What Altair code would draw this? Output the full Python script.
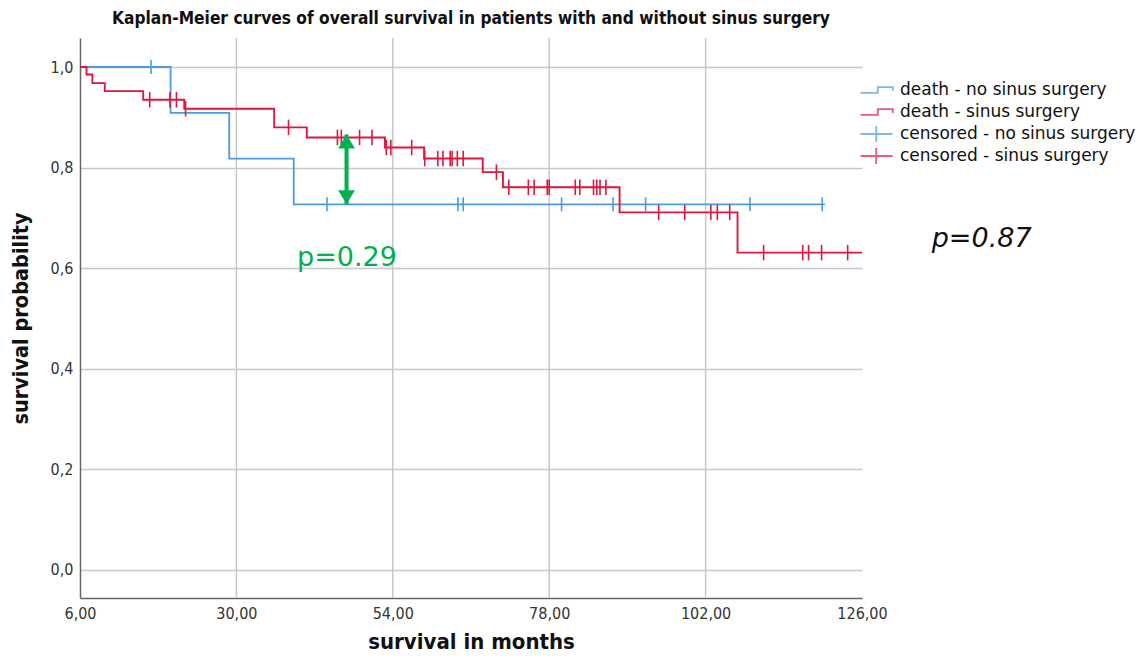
import altair as alt
import pandas as pd

BLUE = "#4a9ae6"
RED = "#e0163f"
GREEN = "#00b050"

# ---- data ----
# no sinus surgery: step points (time, survival)
no_t = [6.0, 19.9, 28.9, 38.8, 120.3]
no_s = [1.0, 0.909, 0.818, 0.727, 0.727]
no_cens_t = [16.9, 43.9, 64.0, 64.8, 79.9, 87.8, 92.8, 108.8, 119.9]

# sinus surgery
si_t = [6.0, 7.0, 7.9, 9.8, 15.7, 22.0, 35.8, 40.8, 52.8, 58.8, 67.8, 70.9, 88.8, 106.9, 126.0]
si_s = [1.0, 0.985, 0.968, 0.952, 0.935, 0.917, 0.880, 0.860, 0.840, 0.818, 0.791, 0.761, 0.711, 0.631, 0.631]
si_cens_t = [16.7, 19.8, 20.8, 22.2, 38.0, 45.5, 46.1, 48.9, 50.8, 53.0, 53.7, 56.9,
             58.9, 60.9, 61.7, 62.8, 63.1, 63.9, 64.8, 69.9,
             71.8, 74.8, 75.7, 77.7, 78.0, 82.0, 82.7, 84.8, 85.3, 85.8, 86.7,
             94.8, 98.8, 102.8, 103.8, 105.7,
             110.9, 116.9, 117.8, 119.8, 123.8]

x_ticks = [6, 30, 54, 78, 102, 126]
x_grid = [30, 54, 78, 102]
y_ticks = [0.0, 0.2, 0.4, 0.6, 0.8, 1.0]

legend_labels = ["death - no sinus surgery", "death - sinus surgery",
                 "censored - no sinus surgery", "censored - sinus surgery"]

arrow_t = [46.9]
arrow_top = [0.866]
arrow_bottom = [0.727]

ann_text = ["p=0.29", "p=0.87"]
ann_t = [39.3, 136.7]
ann_s = [0.604, 0.643]


def km_at(ts, ss, t):
    v = ss[0]
    for ti, si in zip(ts, ss):
        if ti <= t:
            v = si
    return v


curves = pd.DataFrame(
    [{"t": t, "s": s, "g": "no"} for t, s in zip(no_t, no_s)]
    + [{"t": t, "s": s, "g": "si"} for t, s in zip(si_t, si_s)]
)
cens = pd.DataFrame(
    [{"t": t, "s": km_at(no_t, no_s, t), "g": "no"} for t in no_cens_t]
    + [{"t": t, "s": km_at(si_t, si_s, t), "g": "si"} for t in si_cens_t]
)
grid_df = pd.DataFrame({"t": x_grid})
arrow_df = pd.DataFrame({"t": arrow_t, "top": arrow_top, "bottom": arrow_bottom})
ann_df = pd.DataFrame({"t": ann_t, "s": ann_s, "label": ann_text})
leg_df = pd.DataFrame({"label": legend_labels})

FONT = "DejaVu Sans Condensed, DejaVu Sans"
W, H = 782, 560

xscale = alt.Scale(domain=[6, 126], nice=False, zero=False)
yscale = alt.Scale(domain=[-0.0557, 1.0577], nice=False, zero=False)

xaxis = alt.Axis(values=x_ticks, labelExpr="replace(format(datum.value, '.2f'), '.', ',')",
                 title="survival in months", grid=False, ticks=False, labelPadding=7,
                 labelFontSize=16, labelFont=FONT, labelColor="#333",
                 titleFontSize=22, titleFont=FONT, titleFontWeight="bold", titleColor="#111",
                 titleBaseline="alphabetic", titleY=50,
                 domainColor="#666", domainWidth=1.5, labelFlush=False)
yaxis = alt.Axis(values=y_ticks, labelExpr="replace(format(datum.value, '.1f'), '.', ',')",
                 title="survival probability", grid=True, gridColor="#c8c8c8", gridWidth=1.5,
                 ticks=False, labelPadding=7,
                 labelFontSize=16, labelFont=FONT, labelColor="#333",
                 titleFontSize=21.5, titleFont=FONT, titleFontWeight="bold", titleColor="#111",
                 titlePadding=18, domainColor="#666", domainWidth=1.5)


def X(f):
    return alt.X(f"{f}:Q", scale=xscale, axis=xaxis)


def Y(f):
    return alt.Y(f"{f}:Q", scale=yscale, axis=yaxis)


grid = alt.Chart(grid_df).mark_rule(color="#c8c8c8", strokeWidth=1.5).encode(x=X("t"))

line_no = alt.Chart(curves).transform_filter("datum.g == 'no'").mark_line(
    interpolate="step-after", color=BLUE, strokeWidth=1.8).encode(x=X("t"), y=Y("s"))
line_si = alt.Chart(curves).transform_filter("datum.g == 'si'").mark_line(
    interpolate="step-after", color=RED, strokeWidth=1.9).encode(x=X("t"), y=Y("s"))

cens_no = alt.Chart(cens).transform_filter("datum.g == 'no'").mark_point(
    shape="M0,-1V1", size=196, color=BLUE, strokeWidth=1.6, filled=False, opacity=1).encode(
    x=X("t"), y=Y("s"))
cens_si = alt.Chart(cens).transform_filter("datum.g == 'si'").mark_point(
    shape="M0,-1V1", size=240, color=RED, strokeWidth=1.6, filled=False, opacity=1).encode(
    x=X("t"), y=Y("s"))

shaft = alt.Chart(arrow_df).mark_rule(color=GREEN, strokeWidth=4).encode(
    x=X("t"), y=Y("top"), y2="bottom")
head_top = alt.Chart(arrow_df).mark_point(
    shape="M0,0L0.6,1L-0.6,1Z", size=784, filled=True, color=GREEN, opacity=1).encode(
    x=X("t"), y=Y("top"))
head_bot = alt.Chart(arrow_df).mark_point(
    shape="M0,0L0.6,-1L-0.6,-1Z", size=784, filled=True, color=GREEN, opacity=1).encode(
    x=X("t"), y=Y("bottom"))

ann_green = alt.Chart(ann_df).transform_filter("datum.label == 'p=0.29'").mark_text(
    align="left", baseline="alphabetic", fontSize=27, font="DejaVu Sans", color=GREEN).encode(
    x=X("t"), y=Y("s"), text="label:N")
ann_black = alt.Chart(ann_df).transform_filter("datum.label == 'p=0.87'").mark_text(
    align="left", baseline="alphabetic", fontSize=27, font="DejaVu Sans", fontStyle="italic",
    color="#111").encode(x=X("t"), y=Y("s"), text="label:N")

# legend glyphs; the zero-length subpaths give every glyph the same bounds
step_path = "M-2.06,0.35H0.1V-0.35H1.98V0.12M0,-1L0,-1M0,1L0,1"
cross_path = "M-2.06,0H1.94M-0.1,-1V1"

legend_layer = alt.Chart(leg_df).mark_point(size=0, filled=False, strokeWidth=1.8).encode(
    color=alt.Color("label:N", scale=alt.Scale(domain=legend_labels, range=[BLUE, RED, BLUE, RED]),
                    legend=alt.Legend(title=None, orient="none", legendX=788, legendY=43,
                                      symbolSize=256, symbolStrokeWidth=1.8,
                                      labelFontSize=17, labelFont="DejaVu Sans", labelColor="#111",
                                      labelOffset=14, rowPadding=-2, padding=0,
                                      labelLimit=400)),
    shape=alt.Shape("label:N", scale=alt.Scale(domain=legend_labels,
                                               range=[step_path, step_path, cross_path, cross_path])),
)

chart = alt.layer(
    grid, line_no, line_si, cens_no, cens_si, shaft, head_top, head_bot,
    ann_green, ann_black, legend_layer
).properties(
    width=W, height=H,
    title=alt.TitleParams("Kaplan-Meier curves of overall survival in patients with and without sinus surgery",
                          fontSize=17.2, font=FONT, fontWeight="bold", color="#111",
                          anchor="middle", offset=10),
    autosize=alt.AutoSizeParams(type="none"),
    padding={"left": 72, "top": 30, "right": 278, "bottom": 56},
).configure_view(stroke=None).configure_legend(symbolFillColor="transparent")

chart.save("out.html", embed_options={"renderer": "svg", "actions": False})
